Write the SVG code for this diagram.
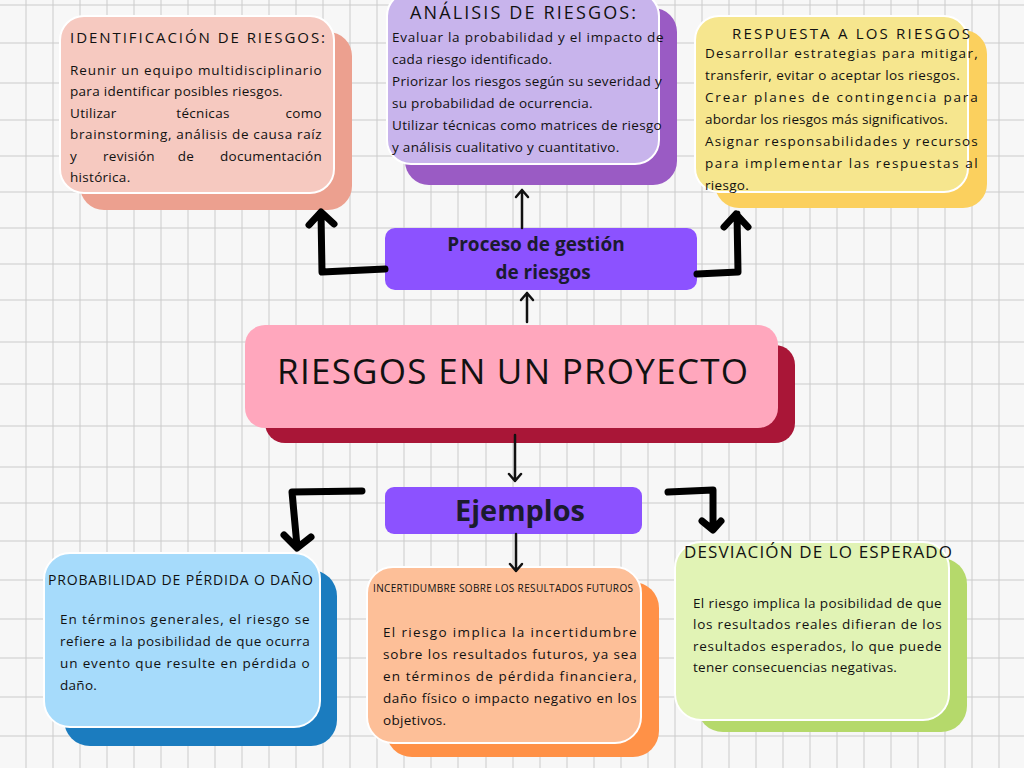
<svg xmlns="http://www.w3.org/2000/svg" width="1024" height="768" viewBox="0 0 1024 768">
<defs>
<style>
.front{stroke:#ffffff;stroke-width:2}
.t{font-family:"Open Sans","Liberation Sans",sans-serif;fill:#111111}
.b{font-size:13.5px;letter-spacing:0.3px}
.bold{font-family:"Open Sans","Liberation Sans",sans-serif;font-weight:700;fill:#1b1b2f;text-anchor:middle}
.thin{fill:none;stroke:#111111;stroke-width:2.5;stroke-linecap:round;stroke-linejoin:round}
.thick{fill:none;stroke:#000000;stroke-width:7;stroke-linecap:round;stroke-linejoin:round}
.grid{stroke:#cbcbcb;stroke-width:1;fill:none}
.purple{fill:#8c52ff}
</style>
</defs>
<rect x="0" y="0" width="1024" height="768" fill="#f7f7f7"/>
<path class="grid" d="M26 0V768M53 0V768M80 0V768M107 0V768M134 0V768M161 0V768M188 0V768M215 0V768M242 0V768M269 0V768M296 0V768M323 0V768M350 0V768M377 0V768M404 0V768M431 0V768M458 0V768M486 0V768M513 0V768M540 0V768M567 0V768M594 0V768M621 0V768M648 0V768M675 0V768M702 0V768M729 0V768M756 0V768M783 0V768M810 0V768M837 0V768M864 0V768M891 0V768M918 0V768M945 0V768M972 0V768M999 0V768M0 5H1024M0 43H1024M0 83H1024M0 120H1024M0 156H1024M0 192H1024M0 228H1024M0 264H1024M0 300H1024M0 342H1024M0 384H1024M0 426H1024M0 467H1024M0 503H1024M0 541H1024M0 580H1024M0 619H1024M0 658H1024M0 697H1024M0 736H1024"/>

<g id="identificacion">
<rect x="80" y="32" width="272" height="178" rx="24" fill="#eca08f"/>
<rect class="front" x="60" y="16" width="274" height="177" rx="24" fill="#f6c9c0"/>
<text class="t" x="70" y="43" font-size="15" textLength="255" lengthAdjust="spacing">IDENTIFICACIÓN DE RIESGOS:</text>
<text class="t b" x="70" y="75" textLength="252" lengthAdjust="spacing">Reunir un equipo multidisciplinario</text>
<text class="t b" x="70" y="96">para identificar posibles riesgos.</text>
<text class="t b" y="118"><tspan x="70">Utilizar</tspan><tspan x="203" text-anchor="middle">técnicas</tspan><tspan x="322" text-anchor="end">como</tspan></text>
<text class="t b" x="70" y="139" textLength="252" lengthAdjust="spacing">brainstorming, análisis de causa raíz</text>
<text class="t b" y="161"><tspan x="70">y</tspan><tspan x="129" text-anchor="middle">revisión</tspan><tspan x="186" text-anchor="middle">de</tspan><tspan x="322" text-anchor="end">documentación</tspan></text>
<text class="t b" x="70" y="182">histórica.</text>
</g>

<g id="analisis">
<rect x="405" y="8" width="272" height="177" rx="24" fill="#9a5bc4"/>
<rect class="front" x="387" y="-8" width="272" height="172" rx="24" fill="#c8b4ec"/>
<text class="t" x="410" y="19" font-size="18" textLength="226" lengthAdjust="spacing">ANÁLISIS DE RIESGOS:</text>
<text class="t b" x="392" y="42" textLength="272" lengthAdjust="spacing">Evaluar la probabilidad y el impacto de</text>
<text class="t b" x="392" y="64">cada riesgo identificado.</text>
<text class="t b" x="392" y="86" textLength="270" lengthAdjust="spacing">Priorizar los riesgos según su severidad y</text>
<text class="t b" x="392" y="108">su probabilidad de ocurrencia.</text>
<text class="t b" x="392" y="130" textLength="270" lengthAdjust="spacing">Utilizar técnicas como matrices de riesgo</text>
<text class="t b" x="392" y="152">y análisis cualitativo y cuantitativo.</text>
</g>

<g id="respuesta">
<rect x="715" y="30" width="272" height="178" rx="24" fill="#fbd05e"/>
<rect class="front" x="695" y="16" width="273" height="176" rx="24" fill="#f6e68e"/>
<text class="t" x="732" y="39" font-size="15" textLength="238" lengthAdjust="spacing">RESPUESTA A LOS RIESGOS</text>
<text class="t b" x="705" y="58" textLength="273" lengthAdjust="spacing">Desarrollar estrategias para mitigar,</text>
<text class="t b" x="705" y="80" textLength="255" lengthAdjust="spacing">transferir, evitar o aceptar los riesgos.</text>
<text class="t b" x="705" y="102" textLength="273" lengthAdjust="spacing">Crear planes de contingencia para</text>
<text class="t b" x="705" y="124" textLength="243" lengthAdjust="spacing">abordar los riesgos más significativos.</text>
<text class="t b" x="705" y="146" textLength="273" lengthAdjust="spacing">Asignar responsabilidades y recursos</text>
<text class="t b" x="705" y="168" textLength="273" lengthAdjust="spacing">para implementar las respuestas al</text>
<text class="t b" x="705" y="190">riesgo.</text>
</g>

<g id="proceso">
<rect class="purple" x="385" y="228" width="312" height="62" rx="10"/>
<text class="bold" x="536" y="251" font-size="19">Proceso de gestión</text>
<text class="bold" x="543" y="279" font-size="19">de riesgos</text>
</g>

<g id="riesgos-proyecto">
<rect x="265" y="345" width="530" height="98" rx="20" fill="#a91637"/>
<rect x="245" y="325" width="533" height="103" rx="20" fill="#ffa7bd"/>
<text class="t" x="277" y="384" font-size="35" textLength="471" lengthAdjust="spacing">RIESGOS EN UN PROYECTO</text>
</g>

<g id="ejemplos">
<rect class="purple" x="385" y="487" width="257" height="47" rx="9"/>
<text class="bold" x="520" y="521" font-size="28" textLength="130" lengthAdjust="spacingAndGlyphs">Ejemplos</text>
</g>

<g id="probabilidad">
<rect x="64" y="570" width="273" height="176" rx="26" fill="#1b7cbf"/>
<rect class="front" x="44" y="553" width="276" height="174" rx="26" fill="#a6dbfb"/>
<text class="t" x="48" y="585" font-size="14" textLength="265" lengthAdjust="spacing">PROBABILIDAD DE PÉRDIDA O DAÑO</text>
<text class="t b" x="60" y="624" textLength="250" lengthAdjust="spacing">En términos generales, el riesgo se</text>
<text class="t b" x="60" y="646" textLength="250" lengthAdjust="spacing">refiere a la posibilidad de que ocurra</text>
<text class="t b" x="60" y="668" textLength="250" lengthAdjust="spacing">un evento que resulte en pérdida o</text>
<text class="t b" x="60" y="690">daño.</text>
</g>

<g id="incertidumbre">
<rect x="386" y="582" width="273" height="175" rx="26" fill="#ff9147"/>
<rect class="front" x="367" y="567" width="274" height="176" rx="26" fill="#fdbf98"/>
<text class="t" x="373" y="592" font-size="10" textLength="260" lengthAdjust="spacing">INCERTIDUMBRE SOBRE LOS RESULTADOS FUTUROS</text>
<text class="t b" x="383" y="637" textLength="254" lengthAdjust="spacing">El riesgo implica la incertidumbre</text>
<text class="t b" x="383" y="659" textLength="254" lengthAdjust="spacing">sobre los resultados futuros, ya sea</text>
<text class="t b" x="383" y="681" textLength="254" lengthAdjust="spacing">en términos de pérdida financiera,</text>
<text class="t b" x="383" y="703" textLength="254" lengthAdjust="spacing">daño físico o impacto negativo en los</text>
<text class="t b" x="383" y="725">objetivos.</text>
</g>

<g id="desviacion">
<rect x="697" y="558" width="270" height="174" rx="26" fill="#b5d96b"/>
<rect class="front" x="675" y="542" width="274" height="178" rx="26" fill="#e1f3b5"/>
<text class="t" x="684" y="558" font-size="17" textLength="268" lengthAdjust="spacing">DESVIACIÓN DE LO ESPERADO</text>
<text class="t b" x="693" y="608" textLength="249" lengthAdjust="spacing">El riesgo implica la posibilidad de que</text>
<text class="t b" x="693" y="629" textLength="249" lengthAdjust="spacing">los resultados reales difieran de los</text>
<text class="t b" x="693" y="651" textLength="249" lengthAdjust="spacing">resultados esperados, lo que puede</text>
<text class="t b" x="693" y="672">tener consecuencias negativas.</text>
</g>

<g id="connectors">
<path class="thin" d="M522 228V190M516 197L522 190L528 197"/>
<path class="thin" d="M527 322V293M521 300L527 293L533 300"/>
<path class="thin" d="M515 435V481M509 474L515 481L521 474"/>
<path class="thin" d="M516 534V571M510 564L516 571L522 564"/>
<path class="thick" d="M385 269L322 272L321 213M309 225L321 212L334 224"/>
<path class="thick" d="M697 274L738 272L737 214M724 227L736 214L748 227"/>
<path class="thick" d="M362 491L292 492L297 546M284 535L297 548L311 537"/>
<path class="thick" stroke-width="5.5" d="M668 492L713 490L713 529M702 521L713 530L721 521"/>
</g>
</svg>
